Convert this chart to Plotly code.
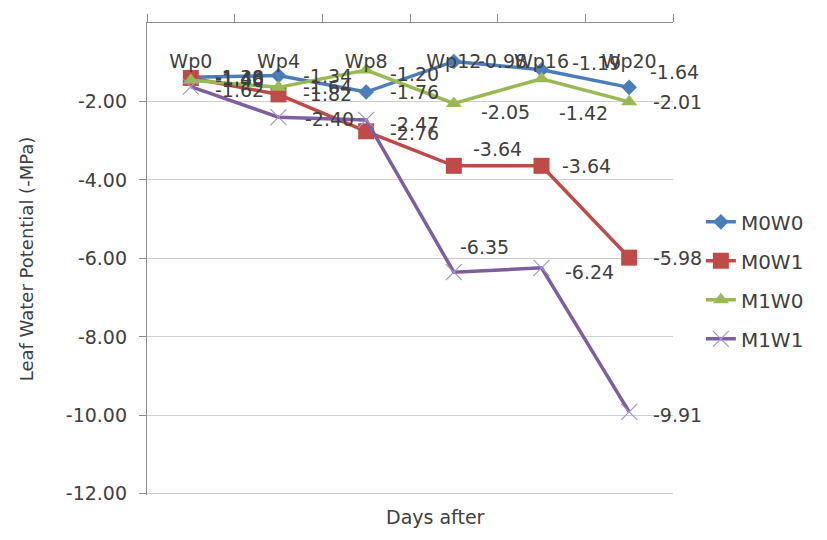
import plotly.graph_objects as go

# Sampling dates and leaf water potential readings per treatment
days = ["Wp0", "Wp4", "Wp8", "Wp12", "Wp16", "Wp20"]
m0w0 = [-1.38, -1.34, -1.76, -0.98, -1.19, -1.64]
m0w1 = [-1.40, -1.82, -2.76, -3.64, -3.64, -5.98]
m1w0 = [-1.46, -1.64, -1.20, -2.05, -1.42, -2.01]
m1w1 = [-1.62, -2.40, -2.47, -6.35, -6.24, -9.91]

y_ticks = [0, -2, -4, -6, -8, -10, -12]
y_tick_text = [".00", "-2.00", "-4.00", "-6.00", "-8.00", "-10.00", "-12.00"]

FONT = "DejaVu Sans"
TXT = "#404040"

series = [
    dict(name="M0W0", y=m0w0, color="#4A7EBB",
         marker=dict(symbol="diamond", size=12, color="#4A7EBB"),
         offs=[(22, 0), (22, 0), (22, 0), (22, 0), (28, 7), (19, 15)]),
    dict(name="M0W1", y=m0w1, color="#BE4B48",
         marker=dict(symbol="square", size=16, color="#BE4B48"),
         offs=[(22, 0), (22, 0), (22, -2), (17, 17), (18, 0), (22, 0)]),
    dict(name="M1W0", y=m1w0, color="#98B954",
         marker=dict(symbol="triangle-up", size=14, color="#98B954"),
         offs=[(22, 0), (22, 0), (22, -4), (25, -9), (15, -34), (22, 0)]),
    dict(name="M1W1", y=m1w1, color="#7D5FA0",
         marker=dict(symbol="x-thin", size=16, color="#A595C8",
                     line=dict(width=1.2, color="#A595C8")),
         offs=[(22, -3), (24, -2), (22, -4), (4, 25), (21, -4), (22, -3)]),
]

fig = go.Figure()
annotations = []
for i, s in enumerate(series):
    fig.add_trace(go.Scatter(
        x=days, y=s["y"], name=s["name"], mode="lines+markers",
        line=dict(color=s["color"], width=3.5),
        marker=s["marker"], legendgroup=s["name"],
    ))
    for d, v, (dx, dy) in zip(days, s["y"], s["offs"]):
        annotations.append(dict(
            x=d, y=v, xref="x", yref="y", text=f"{v:.2f}", showarrow=False,
            xanchor="left", yanchor="middle", xshift=dx, yshift=dy,
            font=dict(family=FONT, size=19, color=TXT),
        ))

annotations.append(dict(
    x=0.548, y=-0.046, xref="paper", yref="paper", text="Days after",
    showarrow=False, xanchor="center", yanchor="middle",
    font=dict(family=FONT, size=19, color=TXT),
))

fig.update_layout(
    width=827, height=540,
    margin=dict(l=147, r=154, t=20, b=45),
    paper_bgcolor="white", plot_bgcolor="white",
    font=dict(family=FONT, color=TXT),
    showlegend=True,
    legend=dict(x=1.053, y=0.62, xanchor="left", yanchor="top",
                font=dict(family=FONT, size=20, color=TXT),
                tracegroupgap=10, bgcolor="rgba(0,0,0,0)"),
    annotations=annotations,
)

fig.update_xaxes(
    type="category", categoryorder="array", categoryarray=days,
    side="top", range=[-0.5, 5.5],
    showline=True, linecolor="#8C8C8C", linewidth=1.3,
    ticks="outside", tickson="boundaries", ticklen=8, tickcolor="#8C8C8C",
    ticklabelposition="inside", ticklabelstandoff=32,
    showgrid=False, zeroline=False,
    tickfont=dict(family=FONT, size=19, color=TXT),
)

fig.update_yaxes(
    range=[-12.03, 0], tickvals=y_ticks, ticktext=y_tick_text,
    showline=True, linecolor="#8C8C8C", linewidth=1.3,
    ticks="outside", ticklen=7, tickcolor="#8C8C8C",
    ticklabelstandoff=8,
    showgrid=True, gridcolor="#CFCFCF", gridwidth=1.3, zeroline=False,
    tickfont=dict(family=FONT, size=19, color=TXT),
    title=dict(text="Leaf Water Potential (-MPa)", standoff=27,
               font=dict(family=FONT, size=18, color=TXT)),
)

fig.write_html("out.html")
